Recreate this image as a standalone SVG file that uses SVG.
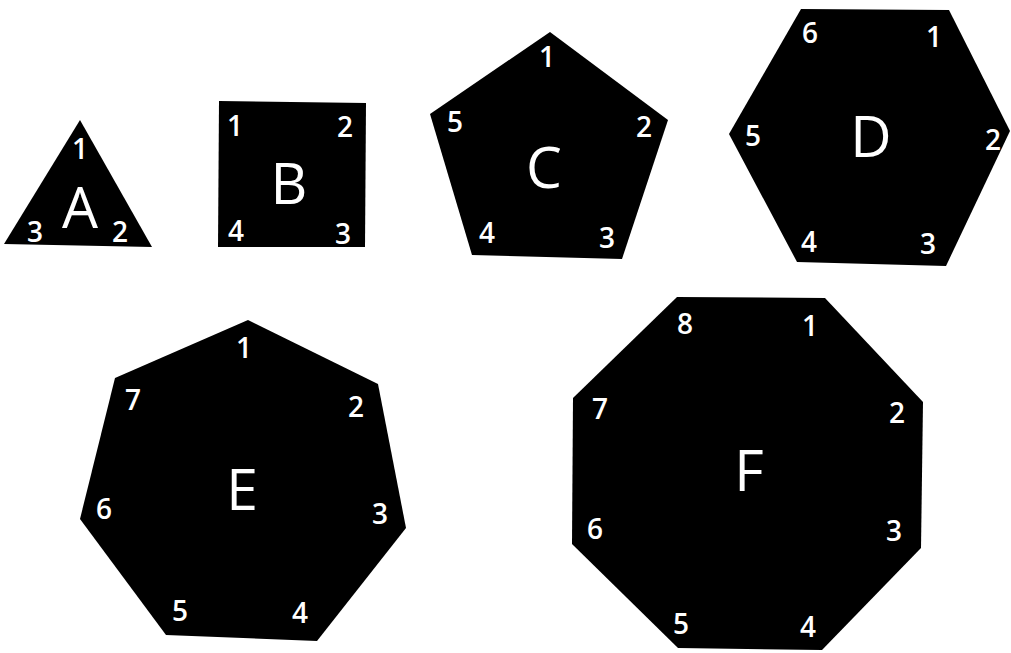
<svg xmlns="http://www.w3.org/2000/svg" width="1011" height="653" viewBox="0 0 1011 653">
<style>
.shape{fill:#000;stroke:none}
.n{fill:#fff;font-family:"Open Sans","Liberation Sans",sans-serif;font-size:28px;font-weight:600;text-anchor:middle}
.L{fill:#fff;font-family:"Open Sans","Liberation Sans",sans-serif;font-size:57px;font-weight:400;text-anchor:middle}
</style>
<rect width="1011" height="653" fill="#fff"/>
<g id="A">
<polygon class="shape" points="80,120 4,244 152,247"/>
<text class="n" x="80" y="159">1</text>
<text class="L" x="80" y="228" font-size="54">A</text>
<text class="n" x="35" y="242">3</text>
<text class="n" x="120" y="242">2</text>
</g>
<g id="B">
<polygon class="shape" points="219,101 366,103 365,247 218,247"/>
<text class="n" x="235" y="136">1</text>
<text class="n" x="345" y="137">2</text>
<text class="L" x="289" y="204">B</text>
<text class="n" x="236" y="241">4</text>
<text class="n" x="343" y="244">3</text>
</g>
<g id="C">
<polygon class="shape" points="550,32 668,120 622,259 472,255 430,114"/>
<text class="n" x="547" y="67">1</text>
<text class="n" x="455" y="132">5</text>
<text class="n" x="644" y="137">2</text>
<text class="L" x="544" y="188">C</text>
<text class="n" x="487" y="243">4</text>
<text class="n" x="607" y="248">3</text>
</g>
<g id="D">
<polygon class="shape" points="801,9 949,10 1010,131 946,266 797,262 729,134"/>
<text class="n" x="810" y="43">6</text>
<text class="n" x="934" y="47">1</text>
<text class="n" x="753" y="146">5</text>
<text class="L" x="871" y="157">D</text>
<text class="n" x="993" y="150">2</text>
<text class="n" x="809" y="252">4</text>
<text class="n" x="928" y="254">3</text>
</g>
<g id="E">
<polygon class="shape" points="248,320 378,384 406,528 317,641 166,635 80,519 115,378"/>
<text class="n" x="244" y="358">1</text>
<text class="n" x="133" y="410">7</text>
<text class="n" x="356" y="417">2</text>
<text class="L" x="242" y="510">E</text>
<text class="n" x="104" y="519">6</text>
<text class="n" x="380" y="524">3</text>
<text class="n" x="180" y="621">5</text>
<text class="n" x="300" y="623">4</text>
</g>
<g id="F">
<polygon class="shape" points="677,297 825,298 923,402 921,548 822,650 678,648 572,544 573,398"/>
<text class="n" x="685" y="334">8</text>
<text class="n" x="810" y="336">1</text>
<text class="n" x="600" y="419">7</text>
<text class="n" x="897" y="423">2</text>
<text class="L" x="749" y="491">F</text>
<text class="n" x="595" y="539">6</text>
<text class="n" x="894" y="541">3</text>
<text class="n" x="681" y="634">5</text>
<text class="n" x="808" y="637">4</text>
</g>
<g id="connectors"/>
</svg>
